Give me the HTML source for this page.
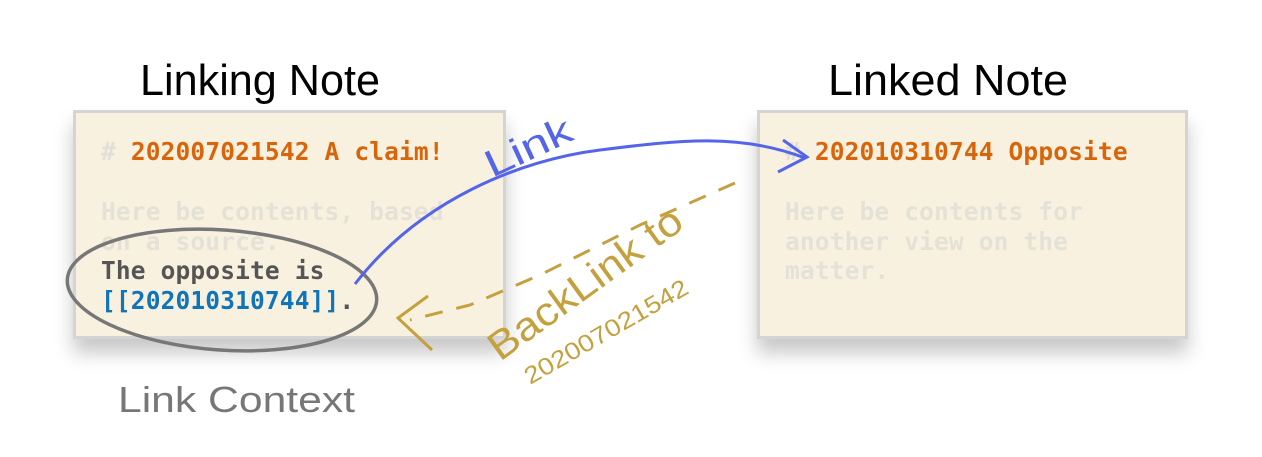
<!DOCTYPE html>
<html><head><style>
body{margin:0;width:1262px;height:457px;background:#fff;overflow:hidden;position:relative}
.box{position:absolute;top:110px;height:229px;background:#f8f1e0;border:3px solid #d4d4d4;box-sizing:border-box;box-shadow:0 14px 18px rgba(0,0,0,0.22)}
.t{position:absolute;font-family:"DejaVu Sans Mono","Liberation Mono",monospace;font-size:24.5px;letter-spacing:0.15px;font-weight:bold;white-space:pre;line-height:29.5px}
svg{position:absolute;left:0;top:0}
</style></head><body>
<div class="box" style="left:73px;width:433px"></div>
<div class="box" style="left:757px;width:431px"></div>
<div class="t" style="left:101px;top:137px"><span style="color:#e0e0d6">#</span> <span style="color:#d9650b">202007021542 A claim!</span></div>
<div class="t" style="left:101px;top:197px;color:#e4e2d6">Here be contents, based
on a source.</div>
<div class="t" style="left:101px;top:256px;color:#555">The opposite is
<span style="color:#1075b8">[[202010310744]]</span>.</div>
<div class="t" style="left:785px;top:137px"><span style="color:#e0e0d6">#</span> <span style="color:#d9650b">202010310744 Opposite</span></div>
<div class="t" style="left:785px;top:197px;color:#e4e2d6">Here be contents for
another view on the
matter.</div>
<svg width="1262" height="457" viewBox="0 0 1262 457">
<g font-family="Liberation Sans Narrow, Liberation Sans, sans-serif">
<text x="140" y="95" font-size="44" textLength="240" lengthAdjust="spacingAndGlyphs" fill="#000">Linking Note</text>
<text x="828" y="95" font-size="44" textLength="240" lengthAdjust="spacingAndGlyphs" fill="#000">Linked Note</text>
<text x="118" y="412" font-size="36" textLength="237" lengthAdjust="spacingAndGlyphs" fill="#777">Link Context</text>
<text transform="translate(492,178) rotate(-25)" font-size="38" textLength="92" lengthAdjust="spacingAndGlyphs" fill="#5565e8">Link</text>
<text transform="translate(500,362) rotate(-36)" font-size="40" textLength="230" lengthAdjust="spacingAndGlyphs" fill="#c4a13e">BackLink to</text>
<text transform="translate(530,385) rotate(-30)" font-size="24" textLength="185" lengthAdjust="spacingAndGlyphs" fill="#c4a13e">202007021542</text>
</g>
<ellipse cx="222" cy="290" rx="155" ry="60" transform="rotate(4 222 290)" fill="none" stroke="#777" stroke-width="3.5"/>
<path d="M355,284 C420,200 520,160 600,150 C680,140 740,133 805,158" fill="none" stroke="#5565e8" stroke-width="3"/>
<path d="M783,140 L807,157 L778,172" fill="none" stroke="#5565e8" stroke-width="3"/>
<path d="M735,183 L640,225 L540,275 L470,305 L410,320" fill="none" stroke="#c4a13e" stroke-width="3" stroke-dasharray="18,14"/>
<path d="M428,296 L398,318 L432,350" fill="none" stroke="#c4a13e" stroke-width="3"/>
</svg>
</body></html>
